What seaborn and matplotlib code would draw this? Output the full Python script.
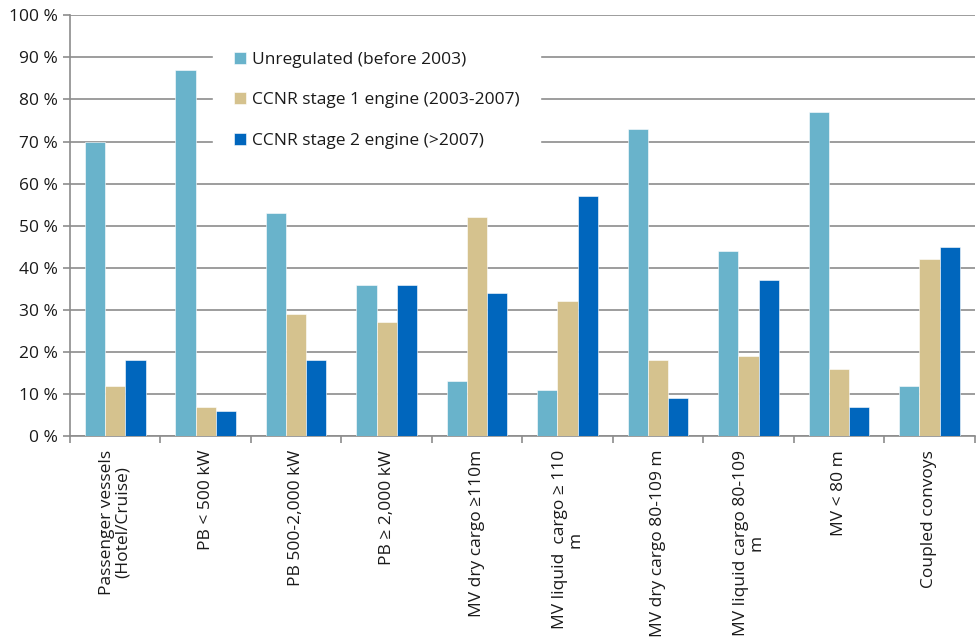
import pandas as pd
import seaborn as sns
import matplotlib.pyplot as plt
from matplotlib.ticker import FixedLocator

categories = ["Passenger vessels\n(Hotel/Cruise)", "PB < 500 kW", "PB 500-2,000 kW",
              "PB \u2265 2,000 kW", "MV dry cargo \u2265110m", "MV liquid  cargo \u2265 110\nm",
              "MV dry cargo 80-109 m", "MV liquid cargo 80-109\nm", "MV < 80 m", "Coupled convoys"]
unregulated = [70, 87, 53, 36, 13, 11, 73, 44, 77, 12]
stage1 = [12, 7, 29, 27, 52, 32, 18, 19, 16, 42]
stage2 = [18, 6, 18, 36, 34, 57, 9, 37, 7, 45]
series = ["Unregulated (before 2003)", "CCNR stage 1 engine (2003-2007)", "CCNR stage 2 engine (>2007)"]
colors = ["#69B3CB", "#D5C28E", "#0066BD"]

df = pd.DataFrame({"cat": categories * 3,
                   "val": unregulated + stage1 + stage2,
                   "series": [series[0]] * 10 + [series[1]] * 10 + [series[2]] * 10})

sns.set_style("white")
plt.rcParams["font.family"] = ["Open Sans", "DejaVu Sans"]

fig = plt.figure(figsize=(9.76, 6.37), dpi=100)
ax = fig.add_axes([0.0717, 0.3155, 0.927, 0.6605])

sns.barplot(data=df, x="cat", y="val", hue="series", palette=colors, width=0.67,
            saturation=1, ax=ax, zorder=3, edgecolor="white", linewidth=0.4)

ax.set_ylim(0, 100)
ax.set_xlim(-0.5, 9.5)
ax.set_yticks(range(0, 101, 10))
ax.set_yticklabels([f"{v} %" for v in range(0, 101, 10)], fontsize=12.5, color="#1a1a1a")
ax.yaxis.grid(True, color="#8c8c8c", linewidth=1.2, zorder=0)
ax.set_axisbelow(True)
ax.tick_params(axis="y", length=5, width=1.2, color="#8c8c8c", pad=4, left=True)

ax.set_xticks(range(10))
ax.set_xticklabels(categories, rotation=90, fontsize=12.5, color="#1a1a1a",
                   multialignment="center", linespacing=1.0)
ax.tick_params(axis="x", which="major", length=0, pad=10)
ax.xaxis.set_minor_locator(FixedLocator([i - 0.5 for i in range(11)]))
ax.tick_params(axis="x", which="minor", length=5, width=1.2, color="#8c8c8c", bottom=True)

for s in ["top", "right"]:
    ax.spines[s].set_visible(False)
for s in ["left", "bottom"]:
    ax.spines[s].set_color("#8c8c8c")
    ax.spines[s].set_linewidth(1.2)

ax.set_xlabel("")
ax.set_ylabel("")

leg = ax.legend(loc="upper left", bbox_to_anchor=(0.149, 0.984), frameon=True, fancybox=False,
                edgecolor="white", framealpha=1, fontsize=12.5, handlelength=0.7,
                handleheight=0.7, handletextpad=0.3, labelspacing=1.41, borderpad=1.2)
leg.set_zorder(5)
for t in leg.get_texts():
    t.set_color("#1a1a1a")

fig.savefig("out.png", dpi=100)
